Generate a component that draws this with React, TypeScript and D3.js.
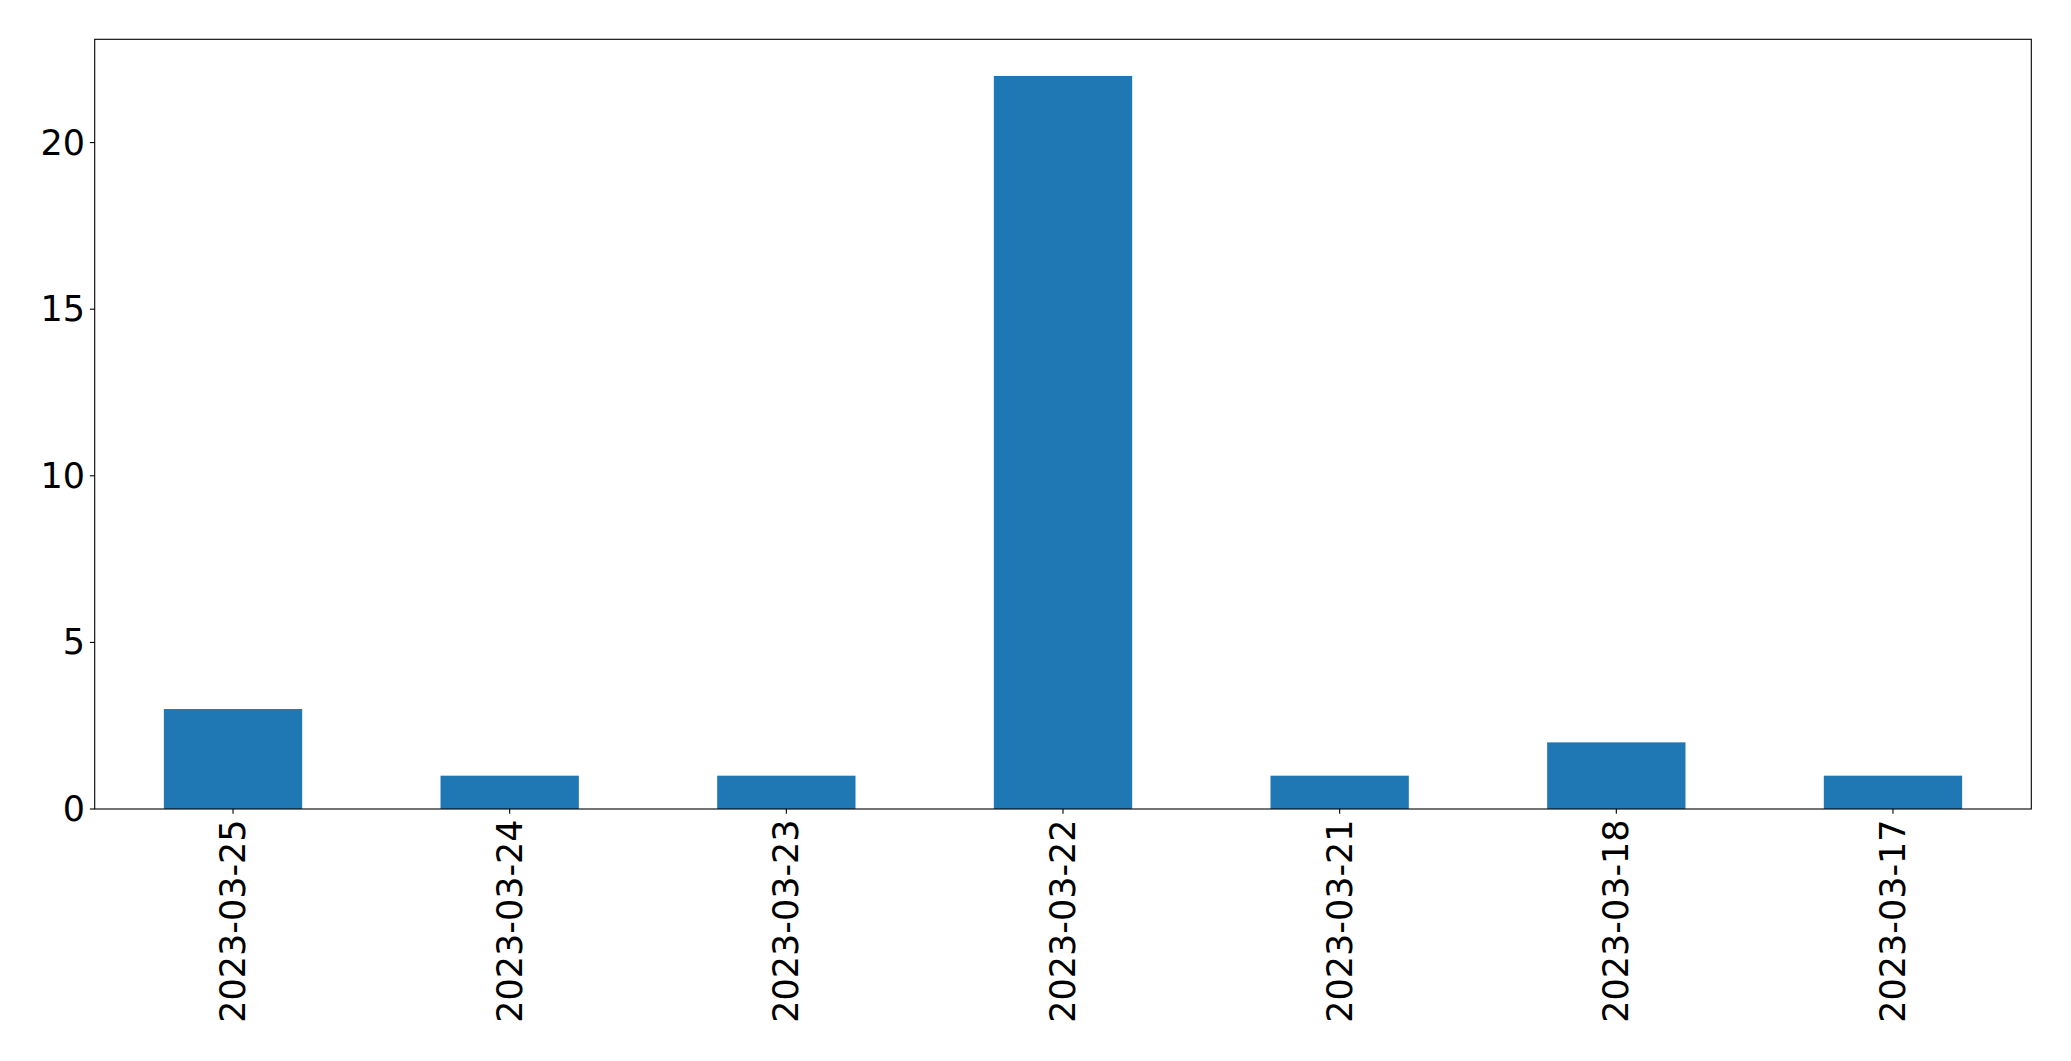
import React from "react";
import * as d3 from "d3";

const categories = ["2023-03-25", "2023-03-24", "2023-03-23", "2023-03-22", "2023-03-21", "2023-03-18", "2023-03-17"];
const values = [3, 1, 1, 22, 1, 2, 1];
const yTicks = [0, 5, 10, 15, 20];

const W = 2071;
const H = 1061;
const left = 94.7;
const right = 2031.3;
const top = 39.3;
const bottom = 809;
const FONT = "DejaVu Sans, sans-serif";
const FS = 35;
const TICK = 4.86;
const PAD = 5.5;

export default function App() {
  const x = d3.scaleLinear().domain([-0.5, categories.length - 0.5]).range([left, right]);
  const ymax = d3.max(values)! * 1.05;
  const y = d3.scaleLinear().domain([0, ymax]).range([bottom, top]);
  const bw = x(0.25) - x(-0.25);
  return (
    <svg width={W} height={H} style={{ position: "absolute", left: 0, top: 0, background: "#fff" }}>
      <rect x={0} y={0} width={W} height={H} fill="#fff" />
      {values.map((v, i) => (
        <rect key={i} x={x(i) - bw / 2} y={y(v)} width={bw} height={y(0) - y(v)} fill="#1f77b4" />
      ))}
      <rect x={left} y={top} width={right - left} height={bottom - top} fill="none" stroke="#000" strokeWidth={1.1} />
      {yTicks.map((t) => (
        <g key={t}>
          <line x1={left - TICK} x2={left} y1={y(t)} y2={y(t)} stroke="#000" strokeWidth={1.1} />
          <text x={left - TICK - 4.86} y={y(t)} textAnchor="end" dominantBaseline="central" fontFamily={FONT} fontSize={FS} fill="#000">
            {t}
          </text>
        </g>
      ))}
      {categories.map((c, i) => (
        <g key={c}>
          <line x1={x(i)} x2={x(i)} y1={bottom} y2={bottom + TICK} stroke="#000" strokeWidth={1.1} />
          <text
            transform={`translate(${x(i)},${bottom + TICK + PAD}) rotate(-90)`}
            textAnchor="end"
            dominantBaseline="central"
            fontFamily={FONT}
            fontSize={FS}
            fill="#000"
          >
            {c}
          </text>
        </g>
      ))}
    </svg>
  );
}
